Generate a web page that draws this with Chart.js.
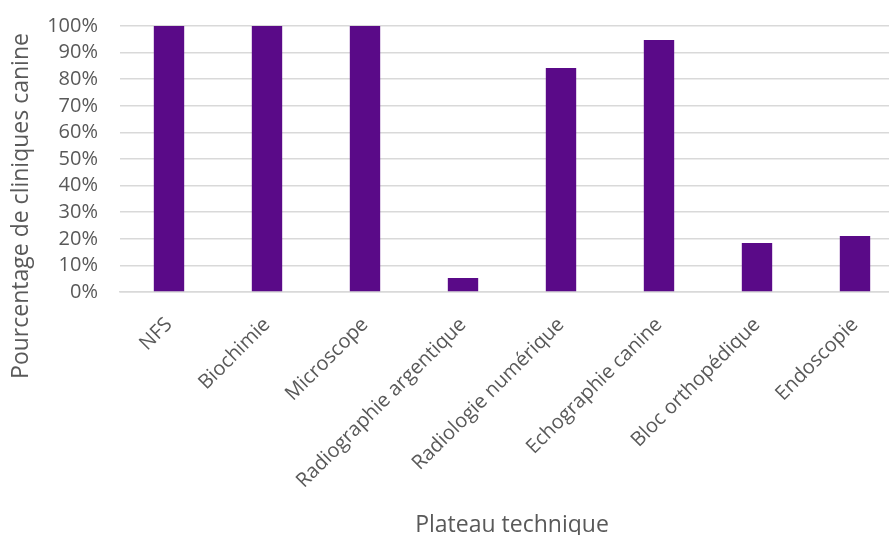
<!DOCTYPE html>
<html>
<head>
<meta charset="utf-8">
<script src="https://cdn.jsdelivr.net/npm/chart.js@4"></script>
<style>
  html, body { margin: 0; padding: 0; background: #fff; overflow: hidden; }
  #wrap { position: relative; width: 904px; height: 535px; }
</style>
</head>
<body>
<div id="wrap"><canvas id="plateauChart"></canvas></div>
<script>
// Données
const categories = ['NFS', 'Biochimie', 'Microscope', 'Radiographie argentique',
  'Radiologie numérique', 'Echographie canine', 'Bloc orthopédique', 'Endoscopie'];
const percentages = [100, 100, 100, 5.26, 84.21, 94.74, 18.42, 21.05];
const yTicks = [0, 10, 20, 30, 40, 50, 60, 70, 80, 90, 100];

const textColor = '#595959';
const fontFamily = '"Open Sans", "DejaVu Sans", sans-serif';

// titre de l'axe Y dessiné à la main (centré comme dans Excel)
const yTitlePlugin = {
  id: 'yTitle',
  afterDraw(chart) {
    const c = chart.ctx;
    c.save();
    c.translate(21, 206);
    c.rotate(-Math.PI / 2);
    c.fillStyle = textColor;
    c.font = '23px ' + fontFamily;
    c.textAlign = 'center';
    c.textBaseline = 'middle';
    c.fillText('Pourcentage de cliniques canine', 0, 0);
    c.restore();
  }
};

const ctx = document.getElementById('plateauChart').getContext('2d');
const chart = new Chart(ctx, {
  type: 'bar',
  data: {
    labels: categories,
    datasets: [{
      label: 'Pourcentage',
      data: percentages,
      backgroundColor: '#5a0a88',
      barPercentage: 0.31,
      categoryPercentage: 1.0
    }]
  },
  options: {
    responsive: true,
    maintainAspectRatio: false,
    animation: false,
    layout: { padding: { top: 26, left: 0, right: 0, bottom: 0 } },
    plugins: {
      legend: { display: false },
      tooltip: { enabled: false }
    },
    scales: {
      x: {
        grid: { display: false, drawTicks: false },
        border: { display: true, color: '#d9d9d9', width: 1.5 },
        ticks: {
          color: textColor,
          font: { family: fontFamily, size: 20 },
          minRotation: 45,
          maxRotation: 45,
          autoSkip: false,
          padding: 21
        },
        title: {
          display: true,
          text: 'Plateau technique',
          color: textColor,
          font: { family: fontFamily, size: 23 },
          padding: { top: 0, bottom: -4 }
        },
        afterFit(scale) {
          scale.height = 243;
          scale.paddingLeft = 0;
          scale.paddingRight = 0;
        }
      },
      y: {
        min: 0,
        max: 100,
        afterBuildTicks(scale) { scale.ticks = yTicks.map(v => ({ value: v })); },
        grid: { color: '#d9d9d9', lineWidth: 1.5, drawTicks: false },
        border: { display: false },
        ticks: {
          color: textColor,
          font: { family: fontFamily, size: 20 },
          padding: 22,
          autoSkip: false,
          callback: v => v + '%'
        },
        afterFit(scale) {
          scale.width = 120;
          scale.paddingTop = 0;
          scale.paddingBottom = 0;
        }
      }
    }
  },
  plugins: [yTitlePlugin]
});
</script>
</body>
</html>
